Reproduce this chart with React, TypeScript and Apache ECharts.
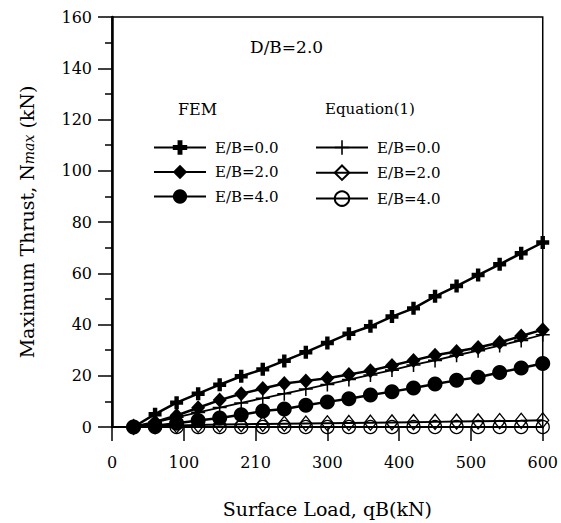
import React, { useEffect, useRef } from "react";
import * as echarts from "echarts";

// ---- data ----
const loads = [30, 60, 90, 120, 150, 180, 210, 240, 270, 300, 330, 360, 390, 420, 450, 480, 510, 540, 570, 600];
const femEB0 = [0, 5, 9.5, 13, 16.5, 19.8, 22.5, 25.8, 29.2, 32.8, 36.4, 39.3, 43.1, 46.3, 51, 55, 59.3, 63.5, 67.8, 72];
const femEB2 = [0, 2, 4.5, 7.5, 10.5, 13, 15, 17, 18, 19, 20.5, 22, 24, 26, 28, 29.5, 31, 33, 35.5, 38];
const femEB4 = [0, 0.5, 1.5, 2.5, 3.5, 4.8, 6.2, 7, 8.5, 9.8, 11, 12.5, 13.8, 15.2, 16.8, 18.2, 19.4, 21.3, 23, 24.8];
const eqEB0 = [0, 1.8, 3.8, 5.7, 7.6, 9.4, 11.2, 13, 14.8, 16.6, 18.5, 20.3, 22.2, 24.2, 26, 28, 29.8, 31.8, 33.8, 36];
const eqEB2 = [0, 0.3, 0.6, 0.8, 1, 1.1, 1.2, 1.3, 1.4, 1.5, 1.6, 1.7, 1.8, 1.9, 2.0, 2.1, 2.2, 2.3, 2.4, 2.6];
const eqEB4 = [0, 0, 0, 0, 0, 0, 0, 0, 0, 0, 0, 0, 0, 0, 0, 0, 0, 0, 0, 0];
const xTickLabels = ["0", "100", "210", "300", "400", "500", "600"];
const seriesLabels = ["E/B=0.0", "E/B=2.0", "E/B=4.0"];

const FONT = "DejaVu Serif";
const thickPlus = "path://M3.3,0H6.7V3.3H10V6.7H6.7V10H3.3V6.7H0V3.3H3.3Z";
const thinPlus = "path://M4.45,0H5.55V4.45H10V5.55H5.55V10H4.45V5.55H0V4.45H4.45Z";

const pairs = (ys: number[]) => loads.map((x, i) => [x, ys[i]]);

export default function App() {
  const ref = useRef<HTMLDivElement>(null);
  useEffect(() => {
    if (!ref.current) return;
    const chart = echarts.init(ref.current, null, { renderer: "svg" });
    const femNames = seriesLabels.map((s) => "FEM " + s);
    const eqNames = seriesLabels.map((s) => "EQ " + s);
    const strip = (n: string) => n.replace(/^(FEM|EQ) /, "");
    const legendCommon = {
      orient: "vertical",
      top: 140,
      itemWidth: 52,
      itemHeight: 18,
      itemGap: 9.5,
      padding: 0,
      selectedMode: false,
      formatter: strip,
      textStyle: { fontFamily: FONT, fontSize: 15, color: "#000", padding: [0, 0, 0, 4] },
    };
    const line = (name: string, data: number[], symbol: string, size: number | number[], filled: boolean, lw: number, z: number) => ({
      name,
      type: "line",
      data: pairs(data),
      symbol,
      symbolSize: size,
      showSymbol: true,
      z,
      lineStyle: { color: "#000", width: lw },
      itemStyle: filled
        ? { color: "#000", borderColor: "#000", borderWidth: 0 }
        : { color: "transparent", borderColor: "#000", borderWidth: 1.3 },
      emphasis: { disabled: true },
    });
    chart.setOption({
      animation: false,
      backgroundColor: "#fff",
      grid: { left: 112, right: 14, top: 17, bottom: 96, show: true, borderColor: "#000", borderWidth: 1.5 },
      xAxis: {
        type: "value",
        min: 0,
        max: 600,
        interval: 100,
        name: "Surface Load, qB(kN)",
        nameLocation: "middle",
        nameGap: 72,
        nameTextStyle: { fontFamily: FONT, fontSize: 19, color: "#000" },
        axisLine: { onZero: false, lineStyle: { color: "#000", width: 2 } },
        axisTick: { show: true, length: 14, lineStyle: { color: "#000", width: 1.5 } },
        axisLabel: {
          margin: 27,
          fontFamily: FONT,
          fontSize: 16,
          color: "#000",
          formatter: (v: number) => xTickLabels[Math.round(v / 100)] ?? "",
        },
        splitLine: { show: false },
      },
      yAxis: {
        type: "value",
        min: 0,
        max: 160,
        interval: 20,
        name: "Maximum Thrust, N{s|max} (kN)",
        nameLocation: "middle",
        nameGap: 76,
        nameRotate: 90,
        nameTextStyle: {
          fontFamily: FONT,
          fontSize: 19,
          color: "#000",
          rich: { s: { fontFamily: FONT, fontSize: 14, fontStyle: "italic", color: "#000", verticalAlign: "bottom", lineHeight: 16 } },
        },
        axisLine: { lineStyle: { color: "#000", width: 2.5 } },
        axisTick: { show: true, length: 14, lineStyle: { color: "#000", width: 1.5 } },
        minorTick: { show: true, splitNumber: 2, length: 7, lineStyle: { color: "#000", width: 1.5 } },
        axisLabel: { margin: 20, fontFamily: FONT, fontSize: 16, color: "#000" },
        splitLine: { show: false },
      },
      legend: [
        { ...legendCommon, left: 153, data: femNames },
        { ...legendCommon, left: 315, data: eqNames },
      ],
      graphic: [
        { type: "text", left: 250, top: 38, style: { text: "D/B=2.0", fontFamily: FONT, fontSize: 17, fill: "#000" } },
        { type: "text", left: 178, top: 101, style: { text: "FEM", fontFamily: FONT, fontSize: 16, fill: "#000" } },
        { type: "text", left: 325, top: 101, style: { text: "Equation(1)", fontFamily: FONT, fontSize: 15, fill: "#000" } },
      ],
      series: [
        line(eqNames[2], eqEB4, "circle", 13, false, 2, 2),
        line(eqNames[1], eqEB2, "diamond", [12, 15], false, 2, 2),
        line(eqNames[0], eqEB0, thinPlus, 14, true, 1.8, 3),
        line(femNames[2], femEB4, "circle", 15, true, 2.5, 4),
        line(femNames[1], femEB2, "diamond", [14, 15], true, 2.5, 5),
        line(femNames[0], femEB0, thickPlus, 13, true, 2.5, 6),
      ],
    });
    return () => chart.dispose();
  }, []);
  return <div ref={ref} style={{ position: "fixed", left: 0, top: 0, width: 561, height: 523 }} />;
}
